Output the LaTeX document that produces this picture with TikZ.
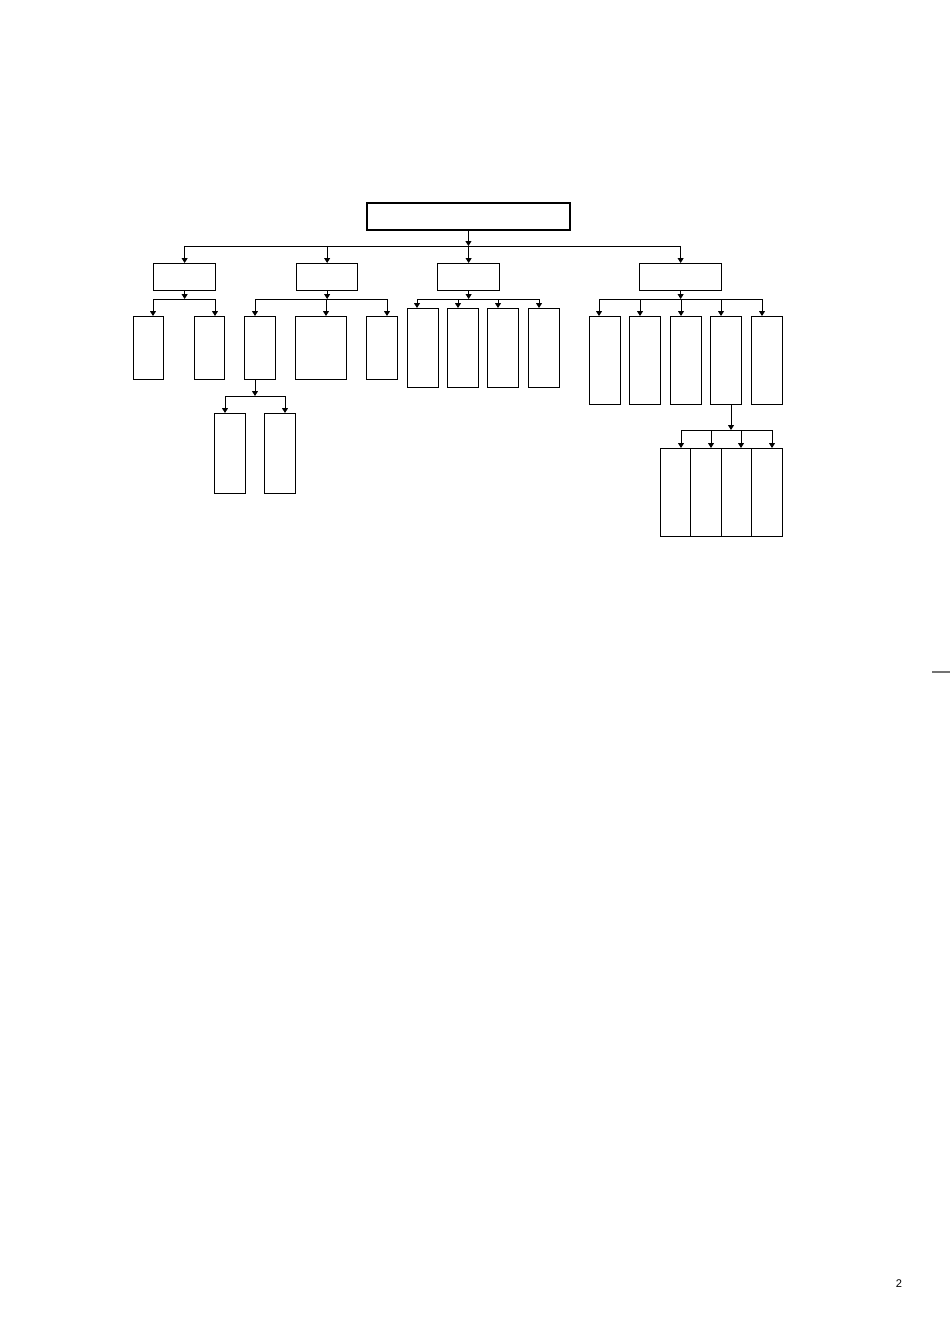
\documentclass[tikz,border=0pt]{standalone}
\usepackage{fontspec}
\setsansfont{Liberation Sans}
\usetikzlibrary{arrows.meta}
\tikzset{box/.style 2 args={draw,anchor=north west,inner sep=0pt,line width=.8pt,
  minimum width=#1*0.22105mm,minimum height=#2*0.22105mm}}
\begin{document}
\begin{tikzpicture}[x=0.22105mm,y=-0.22105mm,>={Triangle[length=3pt,width=3.6pt]},line width=.6pt]%chart
\useasboundingbox (0,0) rectangle (950,1344);
\node[box={203}{27},line width=1.2pt] (top) at (366,202) {};
\node[box={62}{27}] (A) at (153,263) {};
\node[box={61}{27}] (B) at (296,263) {};
\node[box={62}{27}] (C) at (437,263) {};
\node[box={82}{27}] (D) at (639,263) {};
\node[box={30}{63}] (A1) at (133,316) {};
\node[box={30}{63}] (A2) at (194,316) {};
\node[box={31}{63}] (B1) at (244,316) {};
\node[box={51}{63}] (B2) at (295,316) {};
\node[box={31}{63}] (B3) at (366,316) {};
\node[box={31}{80}] (B4) at (214,413) {};
\node[box={31}{80}] (B5) at (264,413) {};
\foreach \n/\x in {1/407,2/447,3/487,4/528}
  \node[box={31}{79}] (C\n) at (\x,308) {};
\foreach \n/\x in {1/589,2/629,3/670,4/710,5/751}
  \node[box={31}{88}] (D\n) at (\x,316) {};
\foreach \n/\x/\w in {1/660/30,2/690/31,3/721/30,4/751/31}
  \node[box={\w}{88}] (E\n) at (\x,448) {};
% first level
\coordinate (t0) at (0,246);
\draw[->] (top.south) -- (top.south |- t0);
\draw (A.north |- t0) -- (D.north |- t0);
\foreach \n in {A,B,C,D} \draw[->] (\n.north |- t0) -- (\n.north);
% second level
\coordinate (s0) at (0,299);
\foreach \n in {A,B,C,D} \draw[->] (\n.south) -- (\n.south |- s0);
\draw (A.south west |- s0) -- (A.south east |- s0)
  (255,299) -- (387,299)
  (417,299) -- (539,299)
  (599,299) -- (762,299);
\foreach \n/\x in {A1/153,A2/215,B1/255,B2/326,B3/387,C1/417,C2/458,C3/498,C4/539,
  D1/599,D2/640,D3/681,D4/721,D5/762}
  \draw[->] (\x,299) -- (\x,0 |- \n.north);
% third level
\draw[->] (255,0 |- B1.south) -- (255,396);
\draw (225,396) -- (285,396);
\foreach \n/\x in {B4/225,B5/285} \draw[->] (\x,396) -- (\x,0 |- \n.north);
\draw[->] (731,0 |- D4.south) -- (731,430);
\draw (681,430) -- (772,430);
\foreach \n/\x in {E1/681,E2/711,E3/741,E4/772} \draw[->] (\x,430) -- (\x,0 |- \n.north);
\draw[black!55,line width=1.3pt] (932,672) -- (950,672);
\node[font=\sffamily\fontsize{7}{8}\selectfont] (pg) at (899,1284) {2};
\end{tikzpicture}
\end{document}
